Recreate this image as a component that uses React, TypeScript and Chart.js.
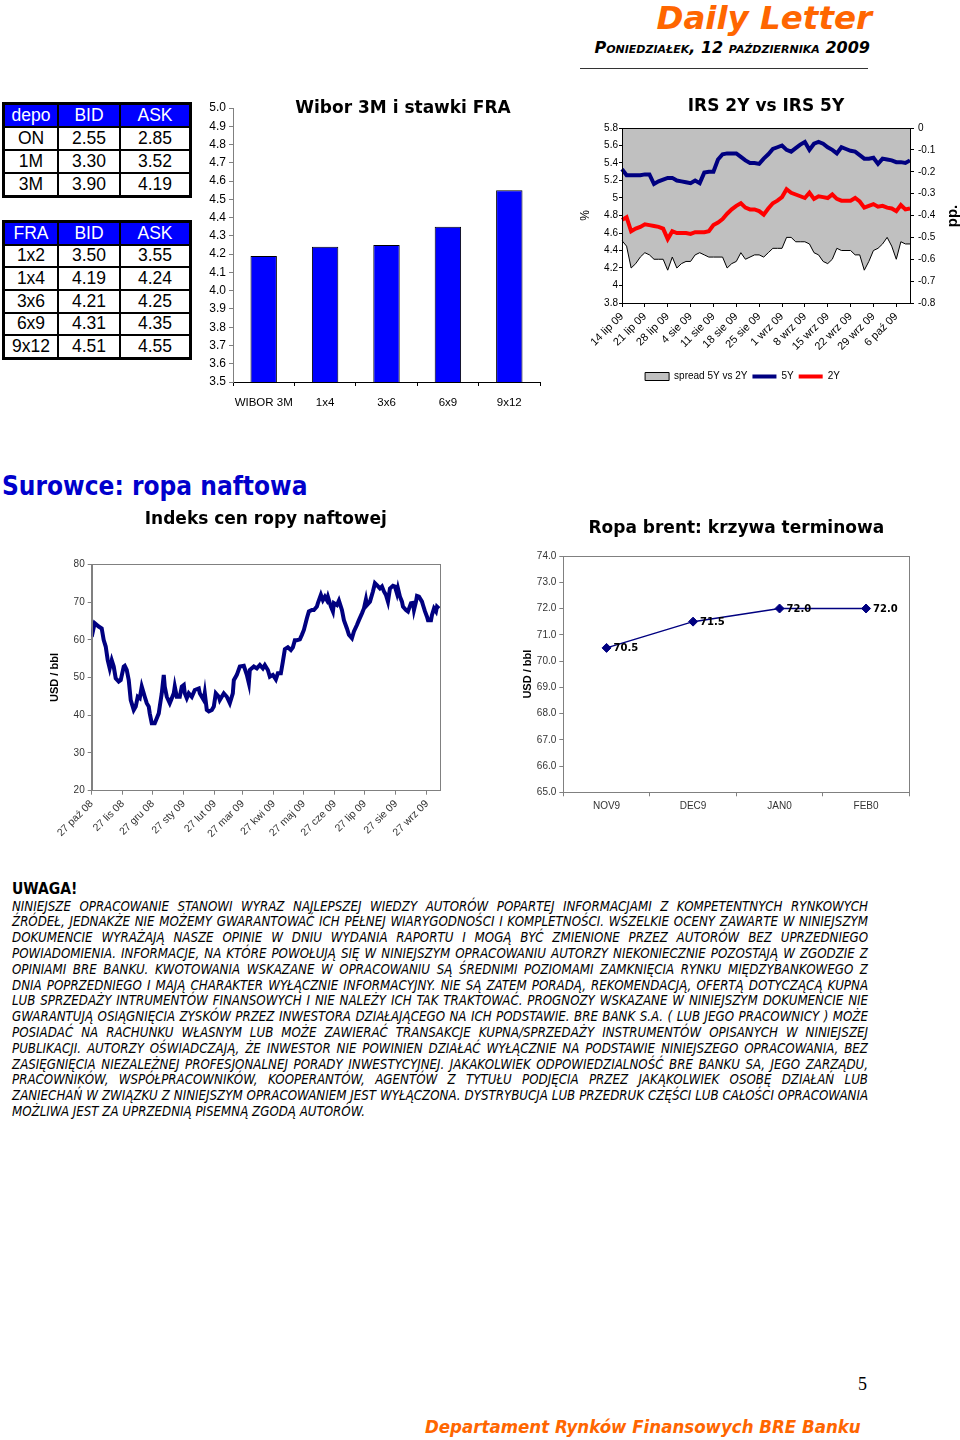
import React, { useEffect, useRef } from 'react';
import { Chart, registerables } from 'chart.js';
Chart.register(...registerables);

const SANS = '"Liberation Sans", Arial, sans-serif';
const VERD = '"DejaVu Sans", Verdana, sans-serif';
const COND = '"DejaVu Sans Condensed", "DejaVu Sans", Tahoma, sans-serif';
const NAVY = '#000080';
const ORANGE = '#FF6600';

// ---- money market tables ----
const depoHead = ['depo', 'BID', 'ASK'];
const depoTenors = ['ON', '1M', '3M'];
const depoBid = ['2.55', '3.30', '3.90'];
const depoAsk = ['2.85', '3.52', '4.19'];
const fraHead = ['FRA', 'BID', 'ASK'];
const fraTenors = ['1x2', '1x4', '3x6', '6x9', '9x12'];
const fraBid = ['3.50', '4.19', '4.21', '4.31', '4.51'];
const fraAsk = ['3.55', '4.24', '4.25', '4.35', '4.55'];

// ---- Wibor 3M i stawki FRA ----
const wiborLabels = ['WIBOR 3M', '1x4', '3x6', '6x9', '9x12'];
const wiborValues = [4.19, 4.24, 4.25, 4.35, 4.55];

// ---- IRS 2Y vs IRS 5Y ----
const irsDates = [
  '14 lip 09', '15 lip 09', '16 lip 09', '17 lip 09', '20 lip 09', '21 lip 09', '22 lip 09', '23 lip 09', '24 lip 09', '27 lip 09',
  '28 lip 09', '29 lip 09', '30 lip 09', '31 lip 09', '3 sie 09', '4 sie 09', '5 sie 09', '6 sie 09', '7 sie 09', '10 sie 09',
  '11 sie 09', '12 sie 09', '13 sie 09', '14 sie 09', '17 sie 09', '18 sie 09', '19 sie 09', '20 sie 09', '21 sie 09', '24 sie 09',
  '25 sie 09', '26 sie 09', '27 sie 09', '28 sie 09', '31 sie 09', '1 wrz 09', '2 wrz 09', '3 wrz 09', '4 wrz 09', '7 wrz 09',
  '8 wrz 09', '9 wrz 09', '10 wrz 09', '11 wrz 09', '14 wrz 09', '15 wrz 09', '16 wrz 09', '17 wrz 09', '18 wrz 09', '21 wrz 09',
  '22 wrz 09', '23 wrz 09', '24 wrz 09', '25 wrz 09', '28 wrz 09', '29 wrz 09', '30 wrz 09', '1 paź 09', '2 paź 09', '5 paź 09',
  '6 paź 09', '7 paź 09', '8 paź 09', '9 paź 09',
];
const irsTickLabels = ['14 lip 09', '21 lip 09', '28 lip 09', '4 sie 09', '11 sie 09', '18 sie 09', '25 sie 09', '1 wrz 09', '8 wrz 09', '15 wrz 09', '22 wrz 09', '29 wrz 09', '6 paź 09'];
const irs5Y = [
  5.33, 5.26, 5.26, 5.26, 5.26, 5.27, 5.27, 5.16, 5.19, 5.21,
  5.23, 5.23, 5.20, 5.19, 5.18, 5.17, 5.20, 5.17, 5.29, 5.30,
  5.30, 5.44, 5.50, 5.51, 5.51, 5.51, 5.47, 5.43, 5.40, 5.40,
  5.39, 5.45, 5.50, 5.56, 5.58, 5.60, 5.55, 5.53, 5.57, 5.61,
  5.64, 5.55, 5.62, 5.64, 5.62, 5.58, 5.55, 5.51, 5.58, 5.56,
  5.54, 5.53, 5.49, 5.45, 5.45, 5.46, 5.39, 5.45, 5.44, 5.43,
  5.41, 5.41, 5.40, 5.43,
];
const irs2Y = [
  4.75, 4.78, 4.62, 4.65, 4.67, 4.70, 4.69, 4.68, 4.67, 4.65,
  4.53, 4.62, 4.60, 4.60, 4.60, 4.59, 4.61, 4.61, 4.61, 4.62,
  4.69, 4.72, 4.76, 4.82, 4.87, 4.91, 4.94, 4.89, 4.87, 4.87,
  4.85, 4.81, 4.88, 4.94, 4.97, 5.01, 5.10, 5.06, 5.04, 5.02,
  5.00, 5.06, 4.99, 5.02, 5.01, 5.00, 5.04, 4.99, 4.97, 4.97,
  4.97, 5.00, 4.96, 4.89, 4.91, 4.93, 4.90, 4.91, 4.89, 4.88,
  4.85, 4.92, 4.87, 4.88,
];
const irsSpread = [
  -0.515, -0.54, -0.64, -0.62, -0.59, -0.57, -0.58, -0.60, -0.60, -0.60,
  -0.65, -0.59, -0.64, -0.62, -0.61, -0.61, -0.58, -0.57, -0.58, -0.59,
  -0.59, -0.59, -0.59, -0.64, -0.62, -0.61, -0.57, -0.60, -0.59, -0.58,
  -0.58, -0.59, -0.57, -0.55, -0.55, -0.55, -0.50, -0.50, -0.52, -0.52,
  -0.52, -0.53, -0.57, -0.58, -0.61, -0.62, -0.60, -0.55, -0.56, -0.56,
  -0.56, -0.58, -0.58, -0.65, -0.61, -0.56, -0.55, -0.53, -0.50, -0.54,
  -0.60, -0.52, -0.53, -0.53,
];

// ---- Indeks cen ropy naftowej (days since 27 paź 08) ----
const oilDays = [
  0, 3, 7, 10, 12, 14, 16, 18, 20, 22,
  24, 27, 29, 32, 33, 35, 37, 39, 42, 44,
  46, 48, 50, 52, 53, 55, 57, 58, 60, 63,
  67, 68, 70, 72, 73, 75, 78, 82, 83, 85,
  88, 90, 92, 93, 95, 97, 100, 103, 107, 108,
  110, 112, 113, 115, 117, 120, 122, 124, 127, 128,
  132, 135, 138, 141, 142, 145, 148, 152, 155, 157,
  158, 162, 165, 168, 171, 173, 176, 178, 181, 184,
  186, 189, 191, 193, 196, 199, 201, 203, 205, 208,
  210, 212, 215, 217, 220, 222, 225, 226, 229, 231,
  233, 235, 236, 239, 241, 242, 245, 247, 250, 252,
  255, 257, 260, 262, 265, 267, 270, 272, 274, 275,
  278, 281, 283, 285, 288, 290, 292, 294, 296, 298,
  301, 303, 305, 306, 308, 310, 311, 314, 316, 319,
  321, 322, 324, 325, 327, 330, 331, 333, 335, 336,
  339, 340, 342, 344, 345, 347,
];
const oilPrices = [
  60.8, 64.4, 63.5, 63.0, 59.9, 58.2, 54.6, 52.4, 54.6, 52.9,
  49.8, 48.9, 49.3, 52.9, 53.1, 52.0, 49.3, 44.0, 41.4, 42.3,
  44.9, 44.5, 47.6, 45.8, 44.9, 43.2, 42.3, 40.5, 37.9, 37.9,
  40.5, 42.3, 45.8, 50.7, 47.6, 44.9, 43.2, 45.8, 47.6, 44.9,
  44.9, 47.6, 48.0, 45.8, 44.5, 45.8, 44.9, 46.7, 47.1, 45.8,
  44.9, 44.0, 45.8, 41.4, 41.0, 41.4, 42.3, 45.8, 44.9, 44.0,
  45.8, 44.9, 43.2, 45.8, 49.3, 50.7, 52.9, 53.1, 50.7, 48.5,
  52.0, 52.9, 52.4, 53.3, 52.4, 53.3, 52.0, 50.2, 50.7, 49.5,
  51.1, 51.1, 54.2, 57.5, 58.0, 57.3, 58.0, 59.9, 59.9, 60.1,
  61.3, 62.6, 65.7, 67.5, 67.9, 67.9, 68.8, 69.7, 71.9, 70.5,
  71.4, 70.5, 71.4, 68.8, 67.5, 69.7, 69.2, 70.4, 67.9, 65.2,
  63.0, 61.3, 60.4, 62.2, 63.9, 65.2, 67.0, 68.3, 70.7, 69.2,
  70.1, 72.8, 75.0, 74.5, 73.6, 74.1, 72.8, 71.9, 70.1, 73.6,
  74.3, 74.1, 72.3, 73.6, 71.4, 70.1, 68.8, 67.9, 67.5, 69.7,
  69.8, 67.9, 70.1, 71.6, 71.4, 70.1, 69.2, 67.5, 66.1, 65.2,
  65.2, 66.6, 68.3, 67.5, 68.8, 68.3,
];
const oilTickDays = [0, 31, 61, 92, 123, 151, 182, 212, 243, 273, 304, 335];
const oilTickLabels = ['27 paź 08', '27 lis 08', '27 gru 08', '27 sty 09', '27 lut 09', '27 mar 09', '27 kwi 09', '27 maj 09', '27 cze 09', '27 lip 09', '27 sie 09', '27 wrz 09'];

// ---- Ropa brent: krzywa terminowa ----
const brentLabels = ['NOV9', 'DEC9', 'JAN0', 'FEB0'];
const brentValues = [70.5, 71.5, 72.0, 72.0];

// ---- disclaimer ----
const disclaimerLines = [
  'NINIEJSZE OPRACOWANIE STANOWI WYRAZ NAJLEPSZEJ WIEDZY AUTORÓW POPARTEJ INFORMACJAMI Z KOMPETENTNYCH RYNKOWYCH',
  'ŹRÓDEŁ, JEDNAKŻE NIE MOŻEMY GWARANTOWAĆ ICH PEŁNEJ WIARYGODNOŚCI I KOMPLETNOŚCI. WSZELKIE OCENY ZAWARTE W NINIEJSZYM',
  'DOKUMENCIE WYRAŻAJĄ NASZE OPINIE W DNIU WYDANIA RAPORTU I MOGĄ BYĆ ZMIENIONE PRZEZ AUTORÓW BEZ UPRZEDNIEGO',
  'POWIADOMIENIA. INFORMACJE, NA KTÓRE POWOŁUJĄ SIĘ W NINIEJSZYM OPRACOWANIU AUTORZY NIEKONIECZNIE POZOSTAJĄ W ZGODZIE Z',
  'OPINIAMI BRE BANKU. KWOTOWANIA WSKAZANE W OPRACOWANIU SĄ ŚREDNIMI POZIOMAMI ZAMKNIĘCIA RYNKU MIĘDZYBANKOWEGO Z',
  'DNIA POPRZEDNIEGO I MAJĄ CHARAKTER WYŁĄCZNIE INFORMACYJNY. NIE SĄ ZATEM PORADĄ, REKOMENDACJĄ, OFERTĄ DOTYCZĄCĄ KUPNA',
  'LUB SPRZEDAŻY INTRUMENTÓW FINANSOWYCH I NIE NALEŻY ICH TAK TRAKTOWAĆ. PROGNOZY WSKAZANE W NINIEJSZYM DOKUMENCIE NIE',
  'GWARANTUJĄ OSIĄGNIĘCIA ZYSKÓW PRZEZ INWESTORA DZIAŁAJĄCEGO NA ICH PODSTAWIE. BRE BANK S.A. ( LUB JEGO PRACOWNICY ) MOŻE',
  'POSIADAĆ NA RACHUNKU WŁASNYM LUB MOŻE ZAWIERAĆ TRANSAKCJE KUPNA/SPRZEDAŻY INSTRUMENTÓW OPISANYCH W NINIEJSZEJ',
  'PUBLIKACJI.  AUTORZY OŚWIADCZAJĄ, ŻE INWESTOR NIE POWINIEN DZIAŁAĆ WYŁĄCZNIE NA PODSTAWIE NINIEJSZEGO OPRACOWANIA, BEZ',
  'ZASIĘGNIĘCIA NIEZALEŻNEJ PROFESJONALNEJ PORADY INWESTYCYJNEJ. JAKAKOLWIEK ODPOWIEDZIALNOŚĆ BRE BANKU  SA, JEGO ZARZĄDU,',
  'PRACOWNIKÓW, WSPÓŁPRACOWNIKÓW, KOOPERANTÓW, AGENTÓW Z TYTUŁU PODJĘCIA PRZEZ JAKĄKOLWIEK OSOBĘ DZIAŁAŃ LUB',
  'ZANIECHAŃ W ZWIĄZKU Z NINIEJSZYM OPRACOWANIEM JEST WYŁĄCZONA. DYSTRYBUCJA LUB PRZEDRUK CZĘŚCI LUB CAŁOŚCI OPRACOWANIA',
  'MOŻLIWA JEST ZA UPRZEDNIĄ PISEMNĄ ZGODĄ AUTORÓW.',
];

// ---- small plugins ----
const framePlugin = {
  id: 'frame',
  afterDatasetsDraw(chart: any, _a: any, opts: any) {
    if (!opts || !opts.color) return;
    const { ctx, chartArea: a } = chart;
    ctx.save();
    ctx.strokeStyle = opts.color;
    ctx.lineWidth = 1;
    ctx.strokeRect(Math.round(a.left) + 0.5, Math.round(a.top) + 0.5, Math.round(a.right - a.left), Math.round(a.bottom - a.top));
    ctx.restore();
  },
};

const valueLabelPlugin = {
  id: 'valueLabels',
  afterDatasetsDraw(chart: any, _a: any, opts: any) {
    if (!opts || !opts.enabled) return;
    const { ctx } = chart;
    const meta = chart.getDatasetMeta(0);
    const data = chart.data.datasets[0].data;
    ctx.save();
    ctx.font = `bold 10px ${VERD}`;
    ctx.fillStyle = '#000';
    ctx.textBaseline = 'middle';
    ctx.textAlign = 'left';
    meta.data.forEach((pt: any, i: number) => ctx.fillText(Number(data[i]).toFixed(1), pt.x + 7, pt.y + 1));
    ctx.restore();
  },
};

const fmt = (v: any) => String(Number(Number(v).toFixed(1)));

function RateTable(props: { top: number; head: string[]; tenors: string[]; bid: string[]; ask: string[]; rowH: number }) {
  const { top, head, tenors, bid, ask, rowH } = props;
  const cell = (bg: string, color: string): React.CSSProperties => ({
    background: bg, color, display: 'flex', alignItems: 'center', justifyContent: 'center',
  });
  const cells: any[] = [];
  head.forEach((h, i) => cells.push(<div key={'h' + i} style={cell('#0000FF', '#fff')}>{h}</div>));
  tenors.forEach((t, r) => {
    cells.push(<div key={'t' + r} style={cell('#fff', '#000')}>{t}</div>);
    cells.push(<div key={'b' + r} style={cell('#fff', '#000')}>{bid[r]}</div>);
    cells.push(<div key={'a' + r} style={cell('#fff', '#000')}>{ask[r]}</div>);
  });
  return (
    <div style={{
      position: 'absolute', left: 2, top, width: 190, boxSizing: 'border-box', background: '#000', padding: 3,
      display: 'grid', gridTemplateColumns: '52px 60px 68px', gridAutoRows: rowH + 'px', gap: 2,
      fontFamily: SANS, fontSize: 17.5, lineHeight: 1,
    }}>{cells}</div>
  );
}

function Txt(props: { x?: number; right?: number; base: number; size: number; family: string; style?: React.CSSProperties; children: any }) {
  const { x, right, base, size, family, style, children } = props;
  const pos: React.CSSProperties = right !== undefined ? { right } : { left: x };
  return (
    <div style={{ position: 'absolute', ...pos, top: base - 0.847 * size, fontSize: size, lineHeight: size + 'px', fontFamily: family, whiteSpace: 'pre', ...style }}>
      {children}
    </div>
  );
}

export default function App() {
  const wiborRef = useRef<HTMLCanvasElement>(null);
  const irsRef = useRef<HTMLCanvasElement>(null);
  const oilRef = useRef<HTMLCanvasElement>(null);
  const brentRef = useRef<HTMLCanvasElement>(null);

  useEffect(() => {
    const charts: Chart[] = [];
    const tickFont = (size: number) => ({ family: SANS, size });

    charts.push(new Chart(wiborRef.current as HTMLCanvasElement, {
      type: 'bar',
      data: {
        labels: wiborLabels,
        datasets: [{ data: wiborValues, backgroundColor: '#0000FF', borderColor: '#000', borderWidth: 1, barPercentage: 0.43, categoryPercentage: 1 }],
      },
      options: {
        animation: false, responsive: false,
        layout: { padding: { top: 13, right: 5, left: 0, bottom: 0 } },
        plugins: { legend: { display: false }, tooltip: { enabled: false } },
        scales: {
          x: {
            grid: { offset: true, drawOnChartArea: false, tickLength: 4, color: '#000' },
            border: { color: '#000' },
            ticks: { font: tickFont(11.5), color: '#000', padding: 10, maxRotation: 0 },
            afterFit: (s: any) => { s.height = 33; },
          },
          y: {
            min: 3.5, max: 5.0,
            ticks: { stepSize: 0.1, callback: (v: any) => Number(v).toFixed(1), font: tickFont(12), color: '#000', padding: 3 },
            grid: { drawOnChartArea: false, tickLength: 4, color: '#808080' },
            border: { color: '#808080' },
            afterFit: (s: any) => { s.width = 33; },
          },
        },
      } as any,
    }));

    charts.push(new Chart(irsRef.current as HTMLCanvasElement, {
      type: 'line',
      data: {
        labels: irsDates,
        datasets: [
          { label: 'spread 5Y vs 2Y', data: irsSpread, yAxisID: 'y1', borderColor: '#000', borderWidth: 1, backgroundColor: '#C0C0C0', fill: 'origin', pointRadius: 0, order: 3, tension: 0 },
          { label: '5Y', data: irs5Y, yAxisID: 'y', borderColor: NAVY, backgroundColor: NAVY, borderWidth: 4, pointRadius: 0, order: 1, fill: false, tension: 0 },
          { label: '2Y', data: irs2Y, yAxisID: 'y', borderColor: '#FF0000', backgroundColor: '#FF0000', borderWidth: 4, pointRadius: 0, order: 2, fill: false, tension: 0 },
        ],
      },
      options: {
        animation: false, responsive: false,
        layout: { padding: { left: 0, right: 0, top: 0, bottom: 4.5 } },
        plugins: {
          tooltip: { enabled: false },
          title: { display: true, text: 'IRS 2Y vs IRS 5Y', fullSize: false, color: '#000', font: { family: VERD, size: 17, weight: 'bold' }, padding: { top: 11.4, bottom: 11.2 } },
          legend: {
            position: 'bottom',
            labels: {
              usePointStyle: true, pointStyleWidth: 24, boxHeight: 8, padding: 5, color: '#000',
              font: { family: SANS, size: 10 },
              generateLabels: (chart: any) => {
                const ds = chart.data.datasets;
                return [
                  { text: ds[0].label, fillStyle: '#C0C0C0', strokeStyle: '#000', lineWidth: 1, pointStyle: 'rect', datasetIndex: 0, hidden: false },
                  { text: ds[1].label, fillStyle: NAVY, strokeStyle: NAVY, lineWidth: 4, pointStyle: 'line', datasetIndex: 1, hidden: false },
                  { text: ds[2].label, fillStyle: '#FF0000', strokeStyle: '#FF0000', lineWidth: 4, pointStyle: 'line', datasetIndex: 2, hidden: false },
                ];
              },
            },
          },
          frame: { color: '#000' },
        },
        scales: {
          x: {
            ticks: {
              autoSkip: false, maxRotation: 45, minRotation: 45, font: tickFont(11), color: '#000', padding: 3,
              callback: (_v: any, i: number) => (irsTickLabels.includes(irsDates[i]) ? irsDates[i] : ''),
            },
            grid: {
              drawOnChartArea: false, tickLength: 4,
              tickColor: (c: any) => (irsTickLabels.includes(irsDates[c.index]) ? '#000' : 'rgba(0,0,0,0)'),
            },
            border: { color: '#000' },
            afterFit: (s: any) => { s.height = 63.5; },
          },
          y: {
            position: 'left', min: 3.8, max: 5.8,
            ticks: { stepSize: 0.2, callback: fmt, font: tickFont(10), color: '#000', padding: 1 },
            title: { display: true, text: '%', color: '#000', font: { family: SANS, size: 12 }, padding: { top: 33.5, bottom: 0 } },
            grid: { drawOnChartArea: false, tickLength: 3, color: '#000' },
            border: { color: '#000' },
            afterFit: (s: any) => { s.width = 77; },
          },
          y1: {
            position: 'right', min: -0.8, max: 0,
            ticks: { stepSize: 0.1, callback: fmt, font: tickFont(10), color: '#000', padding: 4 },
            grid: { drawOnChartArea: false, tickLength: 4, color: '#000' },
            border: { color: '#000' },
            afterFit: (s: any) => { s.width = 30; },
          },
        },
      } as any,
      plugins: [framePlugin],
    }));

    charts.push(new Chart(oilRef.current as HTMLCanvasElement, {
      type: 'line',
      data: {
        datasets: [{ label: 'Indeks', data: oilDays.map((d, i) => ({ x: d, y: oilPrices[i] })), borderColor: NAVY, borderWidth: 4, pointRadius: 0, tension: 0, fill: false }],
      },
      options: {
        animation: false, responsive: false,
        layout: { padding: { left: 0, right: 20, top: 0, bottom: 0 } },
        plugins: {
          legend: { display: false }, tooltip: { enabled: false },
          title: { display: true, text: 'Indeks cen ropy naftowej', fullSize: false, color: '#000', font: { family: VERD, size: 17, weight: 'bold' }, padding: { top: 9.5, bottom: 34.4 } },
          frame: { color: '#808080' },
        },
        scales: {
          x: {
            type: 'linear', min: 0, max: 348,
            afterBuildTicks: (s: any) => { s.ticks = oilTickDays.map((v) => ({ value: v })); },
            ticks: {
              autoSkip: false, maxRotation: 45, minRotation: 45, font: tickFont(10.5), color: '#333', padding: 3,
              callback: (v: any) => oilTickLabels[oilTickDays.indexOf(Number(v))],
            },
            grid: { drawOnChartArea: false, tickLength: 4, color: '#808080' },
            border: { color: '#808080' },
            afterFit: (s: any) => { s.height = 54.3; },
          },
          y: {
            min: 20, max: 80,
            ticks: { stepSize: 10, font: tickFont(10), color: '#333', padding: 3 },
            title: { display: true, text: 'USD / bbl', color: '#000', font: { family: SANS, size: 11, weight: 'bold' }, padding: { top: 18.4, bottom: 0 } },
            grid: { drawOnChartArea: false, tickLength: 4, color: '#808080' },
            border: { color: '#808080' },
            afterFit: (s: any) => { s.width = 61.7; },
          },
        },
      } as any,
      plugins: [framePlugin],
    }));

    charts.push(new Chart(brentRef.current as HTMLCanvasElement, {
      type: 'line',
      data: {
        labels: brentLabels,
        datasets: [{
          label: 'Brent', data: brentValues, borderColor: NAVY, borderWidth: 1.5, tension: 0, fill: false,
          pointStyle: 'rectRot', pointRadius: 4.5, pointBackgroundColor: NAVY, pointBorderColor: NAVY, pointBorderWidth: 1,
        }],
      },
      options: {
        animation: false, responsive: false,
        layout: { padding: { left: 0, right: 15.7, top: 0, bottom: 0 } },
        plugins: {
          legend: { display: false }, tooltip: { enabled: false },
          title: { display: true, text: 'Ropa brent: krzywa terminowa', fullSize: false, color: '#000', font: { family: VERD, size: 17, weight: 'bold' }, padding: { top: 18.8, bottom: 16.8 } },
          frame: { color: '#808080' },
          valueLabels: { enabled: true },
        },
        scales: {
          x: {
            offset: true,
            grid: { offset: true, drawOnChartArea: false, tickLength: 4, color: '#808080' },
            border: { color: '#808080' },
            ticks: { font: tickFont(10), color: '#333', padding: 4, maxRotation: 0 },
            afterFit: (s: any) => { s.height = 37.7; },
          },
          y: {
            min: 65, max: 74,
            ticks: { stepSize: 1, callback: (v: any) => Number(v).toFixed(1), font: tickFont(10), color: '#333', padding: 3 },
            title: { display: true, text: 'USD / bbl', color: '#000', font: { family: SANS, size: 11, weight: 'bold' }, padding: { top: 16.4, bottom: 0 } },
            grid: { drawOnChartArea: false, tickLength: 4, color: '#808080' },
            border: { color: '#808080' },
            afterFit: (s: any) => { s.width = 58.3; },
          },
        },
      } as any,
      plugins: [framePlugin, valueLabelPlugin],
    }));

    return () => charts.forEach((c) => c.destroy());
  }, []);

  const canvasStyle = (left: number, top: number, w: number, h: number): React.CSSProperties => ({ position: 'absolute', left, top, width: w, height: h });
  const lineH = 15.8;

  return (
    <div style={{ position: 'absolute', left: 0, top: 0, width: 960, height: 1440, background: '#fff', overflow: 'hidden' }}>
      <Txt right={88} base={29.5} size={32.5} family={VERD} style={{ color: ORANGE, fontWeight: 'bold', fontStyle: 'italic' }}>Daily Letter</Txt>
      <Txt right={90} base={54} size={16} family={VERD} style={{ color: '#000', fontWeight: 'bold', fontStyle: 'italic', fontVariant: 'small-caps' }}>Poniedziałek, 12 października 2009</Txt>
      <div style={{ position: 'absolute', left: 580, top: 68, width: 288, height: 1, background: '#333' }} />

      <RateTable top={102} head={depoHead} tenors={depoTenors} bid={depoBid} ask={depoAsk} rowH={21} />
      <RateTable top={220} head={fraHead} tenors={fraTenors} bid={fraBid} ask={fraAsk} rowH={20.67} />

      <canvas ref={wiborRef} width={345} height={320} style={canvasStyle(200, 95, 345, 320)} />
      <div style={{ position: 'absolute', left: 253, top: 113.5 - 0.847 * 17, width: 300, textAlign: 'center', fontFamily: VERD, fontWeight: 'bold', fontSize: 17, lineHeight: '17px', color: '#000' }}>Wibor 3M i stawki FRA</div>

      <canvas ref={irsRef} width={395} height={311} style={canvasStyle(545, 85, 395, 311)} />
      <div style={{ position: 'absolute', left: 951, top: 216, transform: 'translate(-50%, -50%) rotate(-90deg)', fontFamily: SANS, fontWeight: 'bold', fontSize: 15, lineHeight: '15px', whiteSpace: 'pre', color: '#000' }}>pp.</div>

      <Txt x={2} base={495} size={26} family={COND} style={{ color: '#0000CC', fontWeight: 'bold' }}>Surowce: ropa naftowa</Txt>

      <canvas ref={oilRef} width={430} height={345} style={canvasStyle(30, 500, 430, 345)} />
      <canvas ref={brentRef} width={420} height={330} style={canvasStyle(505, 500, 420, 330)} />

      <Txt x={12} base={895} size={15.5} family={COND} style={{ color: '#000', fontWeight: 'bold' }}>UWAGA!</Txt>
      <div style={{ position: 'absolute', left: 12, top: 906.5 - lineH / 2, width: 856, fontFamily: COND, fontStyle: 'italic', fontSize: 13.2, lineHeight: lineH + 'px', color: '#000' }}>
        {disclaimerLines.map((l, i) => (
          <div key={i} style={{ whiteSpace: 'nowrap', textAlign: i === disclaimerLines.length - 1 ? 'left' : 'justify', textAlignLast: i === disclaimerLines.length - 1 ? 'left' : 'justify', height: lineH }}>{l}</div>
        ))}
      </div>

      <Txt x={858} base={1390} size={18} family={'"Liberation Serif", "Times New Roman", serif'} style={{ color: '#000' }}>5</Txt>
      <Txt x={425} base={1434} size={18.5} family={COND} style={{ color: ORANGE, fontWeight: 'bold', fontStyle: 'italic' }}>Departament Rynków Finansowych BRE Banku</Txt>
    </div>
  );
}
